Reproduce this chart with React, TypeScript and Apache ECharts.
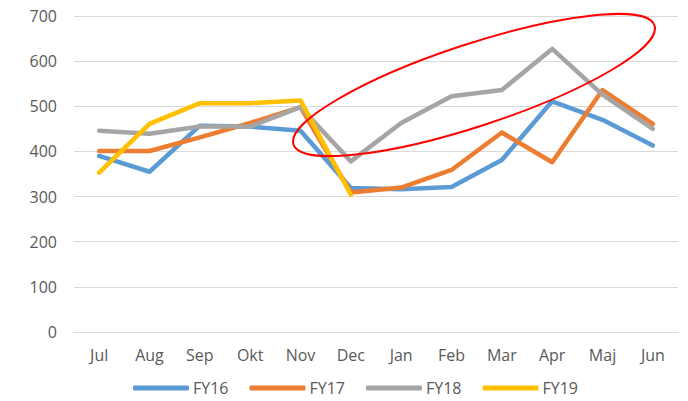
import React, { useEffect, useRef } from "react";
import * as echarts from "echarts";

const months = ["Jul", "Aug", "Sep", "Okt", "Nov", "Dec", "Jan", "Feb", "Mar", "Apr", "Maj", "Jun"];
const fy16 = [390, 355, 457, 455, 446, 319, 316, 321, 381, 511, 470, 413];
const fy17 = [401, 401, 431, 463, 498, 309, 320, 359, 442, 376, 536, 461];
const fy18 = [446, 439, 455, 455, 498, 378, 463, 522, 536, 627, 526, 450];
const fy19 = [353, 461, 507, 507, 513, 304, null, null, null, null, null, null];
const seriesNames = ["FY16", "FY17", "FY18", "FY19"];
const colors = ["#5B9BD5", "#ED7D31", "#A5A5A5", "#FFC000"];

const FONT = "'Open Sans', 'Liberation Sans', sans-serif";

export default function App() {
  const ref = useRef<HTMLDivElement>(null);
  useEffect(() => {
    if (!ref.current) return;
    const chart = echarts.init(ref.current, undefined, { renderer: "svg" });
    const data = [fy16, fy17, fy18, fy19];
    chart.setOption({
      animation: false,
      color: colors,
      grid: { left: 74, right: 10, top: 16, bottom: 69, containLabel: false },
      legend: {
        data: seriesNames,
        left: 133,
        top: 380,
        padding: 0,
        icon: "roundRect",
        itemWidth: 56,
        itemHeight: 5,
        itemGap: 21,
        textStyle: { color: "#595959", fontSize: 16, fontFamily: FONT, padding: [0, 0, 0, -1] },
      },
      xAxis: {
        type: "category",
        data: months,
        boundaryGap: true,
        axisLine: { show: true, lineStyle: { color: "#D9D9D9", width: 1 } },
        axisTick: { show: false },
        axisLabel: { color: "#595959", fontSize: 16, fontFamily: FONT, margin: 15 },
      },
      yAxis: {
        type: "value",
        min: 0,
        max: 700,
        interval: 100,
        axisLine: { show: false },
        axisTick: { show: false },
        splitLine: { lineStyle: { color: "#D9D9D9", width: 1 } },
        axisLabel: { color: "#595959", fontSize: 16, fontFamily: FONT, margin: 17 },
      },
      series: seriesNames.map((n, i) => ({
        name: n,
        type: "line",
        data: data[i],
        symbol: "none",
        connectNulls: false,
        lineStyle: { width: 4.5, color: colors[i], cap: "round", join: "round" },
        itemStyle: { color: colors[i] },
      })),
      graphic: [
        {
          type: "ellipse",
          x: 474,
          y: 85,
          rotation: 0.318,
          z: 100,
          shape: { cx: 0, cy: 0, rx: 190, ry: 41 },
          style: { fill: "none", stroke: "#FF0000", lineWidth: 2 },
        },
      ],
    });
    return () => chart.dispose();
  }, []);
  return (
    <div
      ref={ref}
      style={{ position: "absolute", left: 0, top: 0, width: 688, height: 401, background: "#fff" }}
    />
  );
}
